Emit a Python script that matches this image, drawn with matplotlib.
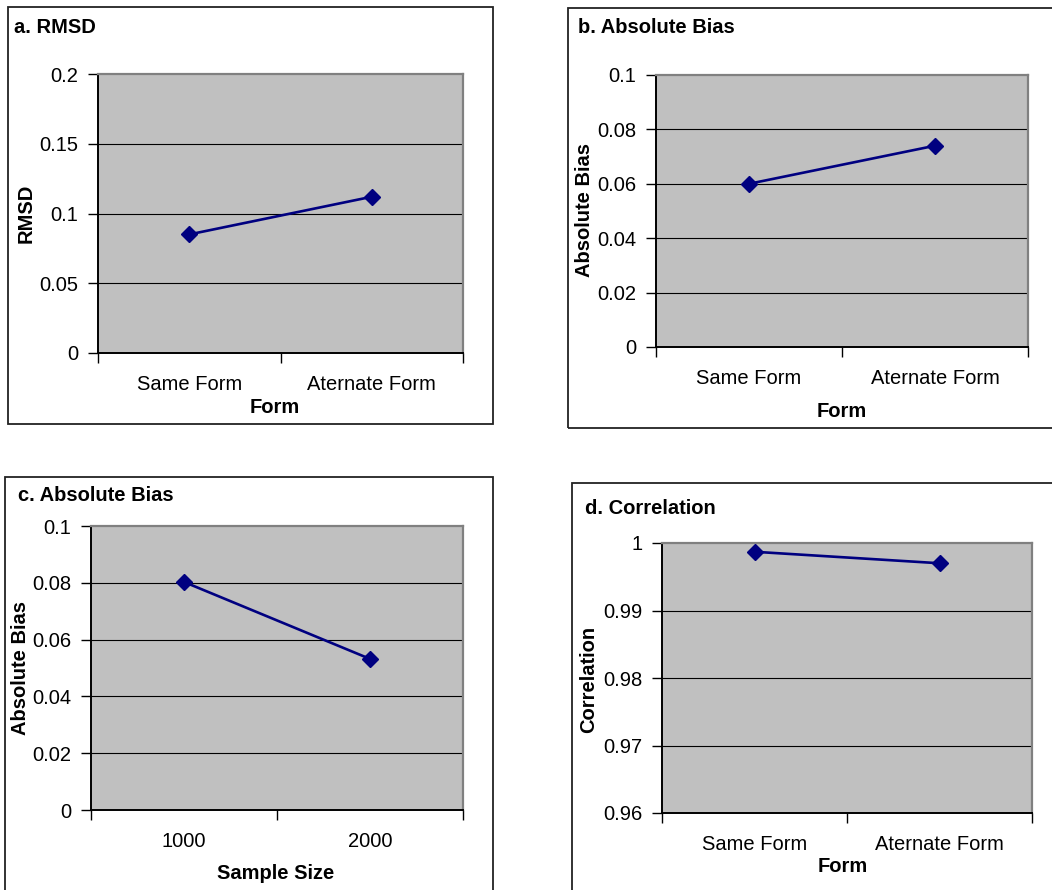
import matplotlib
matplotlib.use("Agg")
import matplotlib.pyplot as plt
from matplotlib.patches import Rectangle
from matplotlib.ticker import FormatStrFormatter
import numpy as np

plt.rcParams['font.family'] = ['Liberation Sans', 'DejaVu Sans']

# ---- data ----
form_categories = ["Same Form", "Aternate Form"]
sample_categories = ["1000", "2000"]

rmsd_by_form = [0.085, 0.112]
bias_by_form = [0.060, 0.074]
bias_by_sample = [0.0803, 0.0532]
corr_by_form = [0.9987, 0.9970]

W, H = 1052, 890
DPI = 100
fig = plt.figure(figsize=(W / DPI, H / DPI), dpi=DPI)

NAVY = "#000080"
FS = 14.5


def fx(x):
    return x / W


def fy(y):
    return 1 - y / H


def frame(x0, y0, x1, y1):
    fig.patches.append(Rectangle((fx(x0), fy(y1)), fx(x1) - fx(x0), fy(y0) - fy(y1),
                                 transform=fig.transFigure, fill=False,
                                 edgecolor="#222222", linewidth=1.3))


def panel(rect, cats, values, ylim, ystep, title, title_pos, ylabel, ylabel_pos,
          xlabel, xlabel_pos):
    l, t, r, b = rect
    ax = fig.add_axes([fx(l), fy(b), fx(r) - fx(l), fy(t) - fy(b)])
    ax.set_facecolor("#C0C0C0")
    n = len(cats)
    xs = np.arange(n) + 0.5
    ax.plot(xs, values, color=NAVY, lw=1.9, marker="D", ms=8.3,
            mfc=NAVY, mec=NAVY, zorder=5, clip_on=False)
    ax.set_xlim(0, n)
    ax.set_ylim(*ylim)
    yt = np.round(np.arange(ylim[0], ylim[1] + ystep / 2, ystep), 6)
    ax.set_yticks(yt)
    ax.yaxis.set_major_formatter(FormatStrFormatter("%g"))
    for v in yt[1:-1]:
        ax.axhline(v, color="black", lw=0.8, zorder=1)
    ax.set_xticks(np.arange(n + 1))
    ax.set_xticklabels([])
    ax.set_xticks(xs, minor=True)
    ax.set_xticklabels(cats, minor=True)
    ax.tick_params(axis="x", which="major", length=7, width=1, direction="out", color="black")
    ax.tick_params(axis="x", which="minor", length=0, pad=16, labelsize=FS)
    ax.tick_params(axis="y", length=7, width=1, direction="out", pad=7, labelsize=FS)
    for side in ("left", "bottom"):
        ax.spines[side].set_color("black")
        ax.spines[side].set_linewidth(1.4)
    for side in ("top", "right"):
        ax.spines[side].set_color("#808080")
        ax.spines[side].set_linewidth(1.6)
    fig.text(fx(title_pos[0]), fy(title_pos[1]), title, fontsize=FS,
             fontweight="bold", ha="left", va="baseline")
    fig.text(fx(ylabel_pos[0]), fy(ylabel_pos[1]), ylabel, fontsize=FS,
             fontweight="bold", rotation=90, ha="center", va="center")
    fig.text(fx(xlabel_pos[0]), fy(xlabel_pos[1]), xlabel, fontsize=FS,
             fontweight="bold", ha="center", va="baseline")
    return ax


# outer chart frames
frame(8, 7, 493, 424)
frame(568, 8, 1060, 428)
frame(5, 477, 493, 900)
frame(572, 483, 1060, 900)

panel((98, 74, 463, 353), form_categories, rmsd_by_form, (0, 0.2), 0.05,
      "a. RMSD", (14, 33), "RMSD", (26, 213), "Form", (275, 413))
panel((656, 75, 1028, 347), form_categories, bias_by_form, (0, 0.1), 0.02,
      "b. Absolute Bias", (578, 33), "Absolute Bias", (585, 210), "Form", (842, 417))
panel((91, 526, 463, 810), sample_categories, bias_by_sample, (0, 0.1), 0.02,
      "c. Absolute Bias", (18, 501), "Absolute Bias", (21, 668), "Sample Size", (276, 879))
panel((662, 543, 1032, 813), form_categories, corr_by_form, (0.96, 1.0), 0.01,
      "d. Correlation", (585, 514), "Correlation", (589, 679), "Form", (843, 872))

fig.savefig("out.png", dpi=DPI, facecolor="white")
